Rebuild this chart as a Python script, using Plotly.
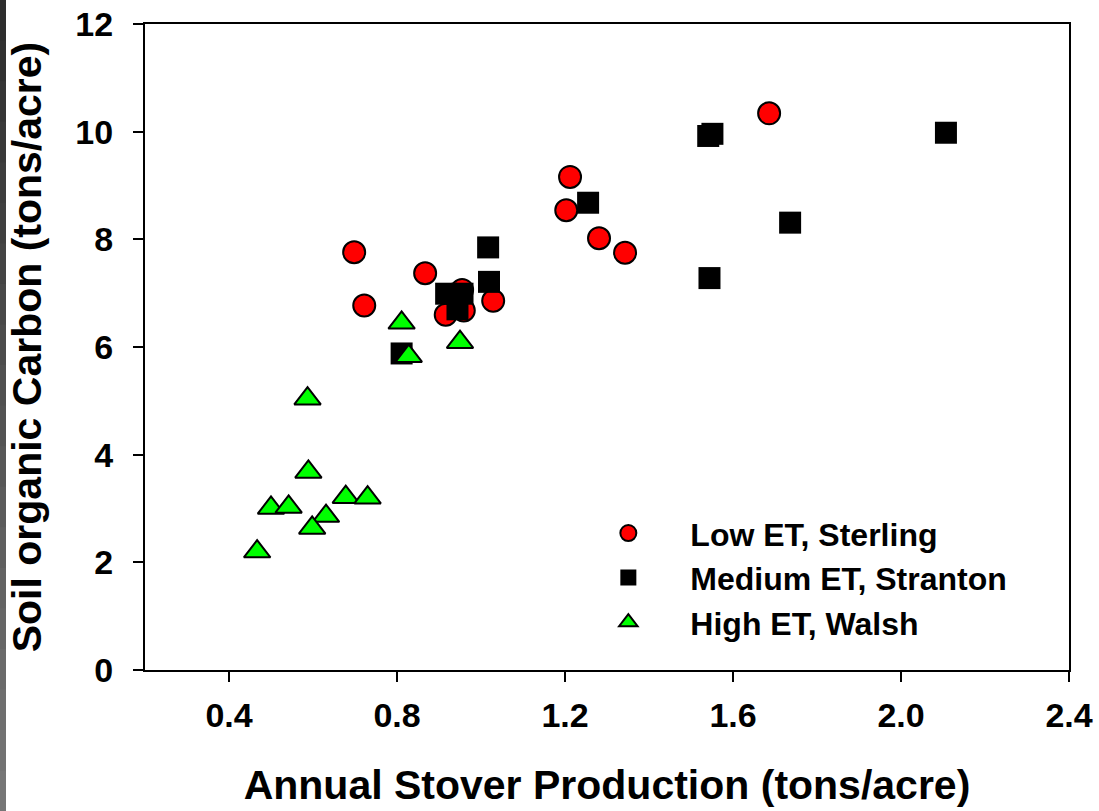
import plotly.graph_objects as go

# ---- data ----
low_x = [0.698, 0.722, 0.867, 0.916, 0.959, 0.955, 1.029, 1.203, 1.212, 1.281, 1.343, 1.686]
low_y = [7.76, 6.77, 7.37, 6.60, 6.68, 7.06, 6.86, 8.54, 9.16, 8.02, 7.75, 10.34]

med_x = [0.811, 0.917, 0.956, 0.944, 1.017, 1.019, 1.255, 1.541, 1.551, 1.544, 1.736, 2.107]
med_y = [5.88, 6.99, 6.99, 6.70, 7.85, 7.21, 8.68, 9.92, 9.96, 7.28, 8.31, 9.98]

high_x = [0.587, 0.589, 0.500, 0.542, 0.678, 0.730, 0.631, 0.598, 0.467, 0.811, 0.950, 0.828]
high_y = [5.04, 3.68, 3.01, 3.03, 3.21, 3.20, 2.86, 2.64, 2.20, 6.45, 6.09, 5.83]

series_names = ["Low ET, Sterling", "Medium ET, Stranton", "High ET, Walsh"]
x_ticks = [0.4, 0.8, 1.2, 1.6, 2.0, 2.4]
x_tick_text = ["0.4", "0.8", "1.2", "1.6", "2.0", "2.4"]
y_ticks = [0, 2, 4, 6, 8, 10, 12]

FONT = "Liberation Sans, Arial, sans-serif"

fig = go.Figure()
fig.add_trace(go.Scatter(
    x=low_x, y=low_y, mode="markers", name=series_names[0],
    marker=dict(symbol="circle", size=22, color="#ff0000",
                line=dict(color="black", width=2)),
))
fig.add_trace(go.Scatter(
    x=med_x, y=med_y, mode="markers", name=series_names[1],
    marker=dict(symbol="square", size=22, color="black",
                line=dict(color="black", width=0)),
))
fig.add_trace(go.Scatter(
    x=high_x, y=high_y, mode="markers", name=series_names[2],
    marker=dict(symbol="triangle-up", size=23, color="#00ff00",
                line=dict(color="black", width=2)),
))

W, H = 1099, 811
ml, mr, mt, mb = 145, 30, 24, 141
pw, ph = W - ml - mr, H - mt - mb

# decorative gray strip along the left edge (vertical gradient in bands)
n_bands = 20
shapes = []
for i in range(n_bands):
    t = i / (n_bands - 1)
    g = int(0x2e + t * (0x76 - 0x2e))
    y_top_px = i * H / n_bands
    y_bot_px = (i + 1) * H / n_bands + 1
    shapes.append(dict(
        type="rect", xref="paper", yref="paper",
        x0=(0 - ml) / pw, x1=(6 - ml) / pw,
        y0=(H - mb - y_bot_px) / ph, y1=(H - mb - y_top_px) / ph,
        fillcolor=f"rgb({g},{g},{g})", line=dict(width=0), layer="above",
    ))

fig.update_layout(
    width=W, height=H,
    margin=dict(l=ml, r=mr, t=mt, b=mb, autoexpand=False),
    paper_bgcolor="white", plot_bgcolor="white",
    font=dict(family=FONT, color="black", weight="bold"),
    showlegend=True,
    legend=dict(
        x=0.456, y=0.2543, xanchor="left", yanchor="top",
        bgcolor="rgba(0,0,0,0)", borderwidth=0,
        font=dict(family=FONT, size=32, color="black", weight="bold"),
        itemwidth=114, tracegroupgap=0,
    ),
    shapes=shapes,
)

fig.update_xaxes(
    range=[0.2, 2.4], tickvals=x_ticks, ticktext=x_tick_text,
    showgrid=False, zeroline=False,
    showline=True, linecolor="black", linewidth=2, mirror=True,
    ticks="outside", ticklen=10, tickwidth=2, tickcolor="black",
    tickfont=dict(family=FONT, size=34, color="black", weight="bold"),
    ticklabelstandoff=4, ticklabeloverflow="allow",
    title=dict(text="Annual Stover Production (tons/acre)",
               font=dict(family=FONT, size=41, color="black", weight="bold"),
               standoff=38),
    automargin=False,
)
fig.update_yaxes(
    range=[0, 12], tickvals=y_ticks,
    showgrid=False, zeroline=False,
    showline=True, linecolor="black", linewidth=2, mirror=True,
    ticks="outside", ticklen=10, tickwidth=2, tickcolor="black",
    tickfont=dict(family=FONT, size=34, color="black", weight="bold"),
    ticklabelstandoff=13, ticklabeloverflow="allow",
    title=dict(text="Soil organic Carbon (tons/acre)",
               font=dict(family=FONT, size=41, color="black", weight="bold"),
               standoff=21),
    automargin=False,
)

# remove the browser's default 8px body margin so the figure fills the window
fig.write_html("out.html",
               config={"displayModeBar": False},
               post_script="document.body.style.margin='0px';document.body.style.overflow='hidden';")
